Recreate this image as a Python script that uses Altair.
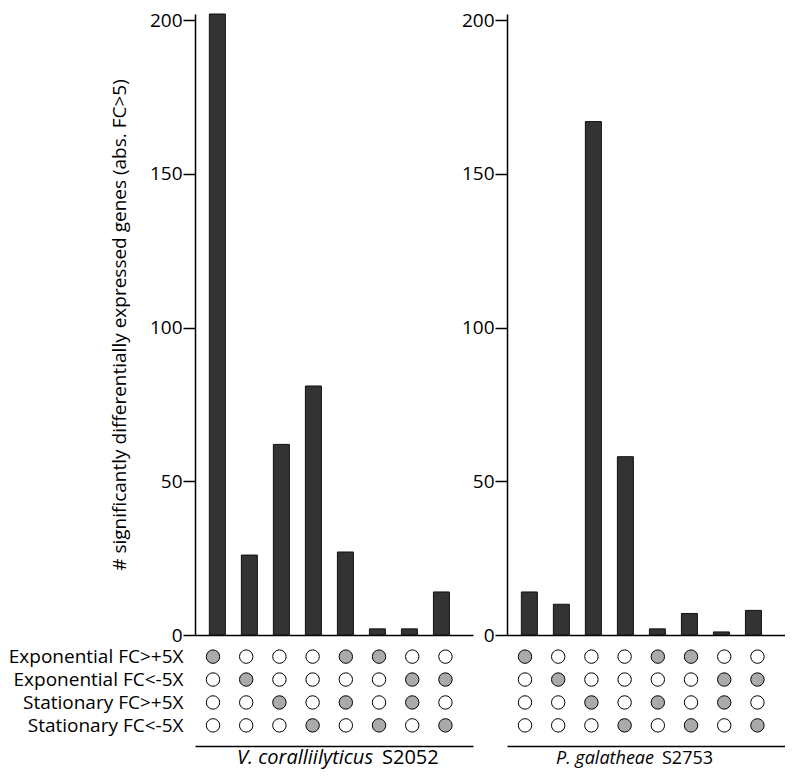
import altair as alt
import pandas as pd

# ---- data ----
conditions = ["Exponential FC>+5X", "Exponential FC<-5X", "Stationary FC>+5X", "Stationary FC<-5X"]
# which conditions (row indices) are filled for each of the 8 columns
membership = [[0], [1], [2], [3], [0, 2], [0, 3], [1, 2], [1, 3]]
vc_counts = [202, 26, 62, 81, 27, 2, 2, 14]
pg_counts = [14, 10, 167, 58, 2, 7, 1, 8]
vc_name = ["V. coralliilyticus", "S2052"]
pg_name = ["P. galatheae", "S2753"]
y_ticks = [0, 50, 100, 150, 200]
y_title = "# significantly differentially expressed genes (abs. FC>5)"

FONT = "Open Sans"
FS = 19
PW = 278          # panel plot width
BH = 621          # bar plot height
DH = 110          # dot matrix height
XDOM = [-0.542, 7.83]
YMAX = 202


def bar_panel(counts, first):
    bars_df = pd.DataFrame({"col": list(range(len(counts))), "count": counts})
    xscale = alt.Scale(domain=XDOM, nice=False, zero=False)
    return alt.Chart(bars_df).mark_bar(
        size=16, fill="#333333", stroke="#111111", strokeWidth=1
    ).encode(
        x=alt.X("col:Q", scale=xscale,
                axis=alt.Axis(domain=True, ticks=False, labels=False, grid=False,
                              title=None, domainWidth=1.5)),
        y=alt.Y("count:Q", scale=alt.Scale(domain=[0, YMAX], nice=False),
                axis=alt.Axis(values=y_ticks, grid=False, tickSize=12, tickWidth=1.5,
                              domainWidth=1.5, labelPadding=1, labelFontSize=FS,
                              title=y_title if first else None,
                              titleFontSize=FS, titlePadding=20,
                              titleFontWeight="normal")),
    ).properties(width=PW, height=BH)


def dot_panel(name, first, split_right, split_left, fsize):
    dots_df = pd.DataFrame(
        [
            {"col": c, "row": conditions[r], "on": "yes" if r in membership[c] else "no"}
            for c in range(len(membership))
            for r in range(len(conditions))
        ]
    )
    names_df = pd.DataFrame({"italic": [name[0]], "rest": [name[1]]})
    xscale = alt.Scale(domain=XDOM, nice=False, zero=False)

    dots = alt.Chart(dots_df).mark_circle(
        size=180, stroke="black", strokeWidth=1, opacity=1
    ).encode(
        x=alt.X("col:Q", scale=xscale,
                axis=alt.Axis(domain=True, ticks=False, labels=False, grid=False,
                              title=None, domainWidth=1.5)),
        y=alt.Y("row:N", sort=conditions,
                scale=alt.Scale(type="point", padding=0.9),
                axis=alt.Axis(domain=False, ticks=False, labelFontSize=FS,
                              labelPadding=12, title=None) if first else None),
        fill=alt.Fill("on:N", scale=alt.Scale(domain=["yes", "no"],
                                              range=["#aaaaaa", "#ffffff"]),
                      legend=None),
    )

    t1 = alt.Chart(names_df).mark_text(
        align="right", baseline="alphabetic", fontStyle="italic", fontSize=fsize,
        color="black", font=FONT
    ).encode(x=alt.value(split_right), y=alt.value(DH + 18), text="italic:N")
    t2 = alt.Chart(names_df).mark_text(
        align="left", baseline="alphabetic", fontSize=fsize, color="black", font=FONT
    ).encode(x=alt.value(split_left), y=alt.value(DH + 18), text="rest:N")

    return alt.layer(dots, t1, t2).properties(width=PW, height=DH)


chart = alt.concat(
    bar_panel(vc_counts, True),
    bar_panel(pg_counts, False),
    dot_panel(vc_name, True, 178, 187, 20),
    dot_panel(pg_name, False, 147, 155, 18),
    columns=2,
    spacing={"row": 1, "column": 34},
    bounds="flush",
).properties(
    padding={"left": 0, "top": 3, "right": 0, "bottom": 25}
).configure(font=FONT).configure_view(stroke=None).configure_axis(
    labelColor="black", domainColor="black", tickColor="black", titleColor="black",
    labelFont=FONT, titleFont=FONT
)

chart.save("out.html", embed_options={"renderer": "svg", "actions": False})
